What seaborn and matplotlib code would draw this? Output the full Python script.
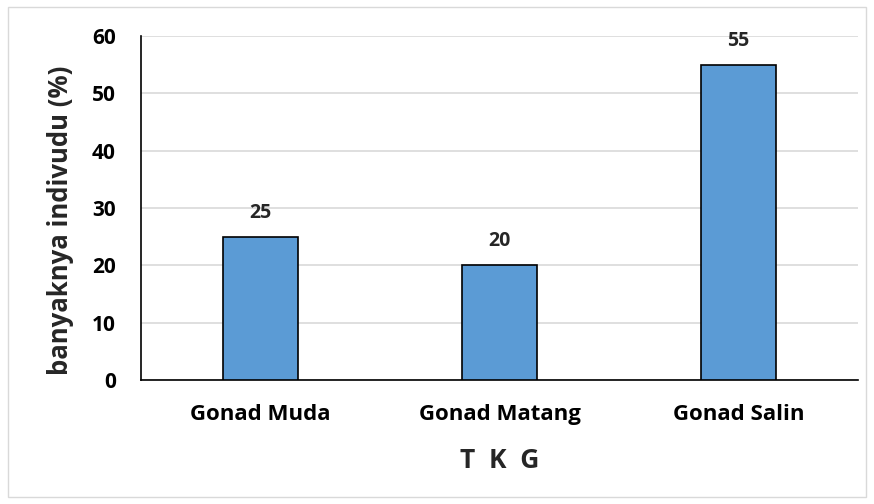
import pandas as pd
import seaborn as sns
import matplotlib.pyplot as plt
from matplotlib.patches import Rectangle

# Data
kategori = ["Gonad Muda", "Gonad Matang", "Gonad Salin"]
persen = [25, 20, 55]
yticks = [0, 10, 20, 30, 40, 50, 60]

df = pd.DataFrame({"TKG": kategori, "Persen": persen})

sns.set_theme(style="white")
plt.rcParams["font.family"] = ["Open Sans", "DejaVu Sans"]
plt.rcParams["font.weight"] = "bold"

fig = plt.figure(figsize=(8.74, 5.04), dpi=100)
ax = fig.add_axes([0.1613, 0.246, 0.8204, 0.6825])

sns.barplot(data=df, x="TKG", y="Persen", color="#5B9BD5", width=0.31,
            edgecolor="black", linewidth=1.2, saturation=1, ax=ax, zorder=3)

ax.set_ylim(0, 60)
ax.set_yticks(yticks)
ax.yaxis.grid(True, color="#D9D9D9", linewidth=1.2, zorder=0)
ax.set_axisbelow(True)

for s in ["top", "right"]:
    ax.spines[s].set_visible(False)
for s in ["left", "bottom"]:
    ax.spines[s].set_color("black")
    ax.spines[s].set_linewidth(1.2)

ax.tick_params(axis="both", length=0, colors="black")
ax.tick_params(axis="x", pad=17, labelsize=16)
ax.tick_params(axis="y", pad=18, labelsize=15)
for lab in ax.get_xticklabels() + ax.get_yticklabels():
    lab.set_fontweight("bold")

# data labels
for i, v in enumerate(persen):
    ax.annotate(str(v), (i, v), xytext=(0, 10), textcoords="offset points",
                ha="center", va="bottom", fontsize=14, fontweight="bold")

ax.set_xlabel("T  K  G", fontsize=19, fontweight="bold", labelpad=16)
ax.set_ylabel("banyaknya indivudu (%)", fontsize=18.5, fontweight="bold")
ax.yaxis.set_label_coords(-0.094, 0.465)

# outer chart border
fig.patches.append(Rectangle((8 / 874, 7 / 504), 858 / 874, 490 / 504,
                             transform=fig.transFigure, fill=False,
                             edgecolor="#D9D9D9", linewidth=1))

fig.savefig("out.png", dpi=100)
